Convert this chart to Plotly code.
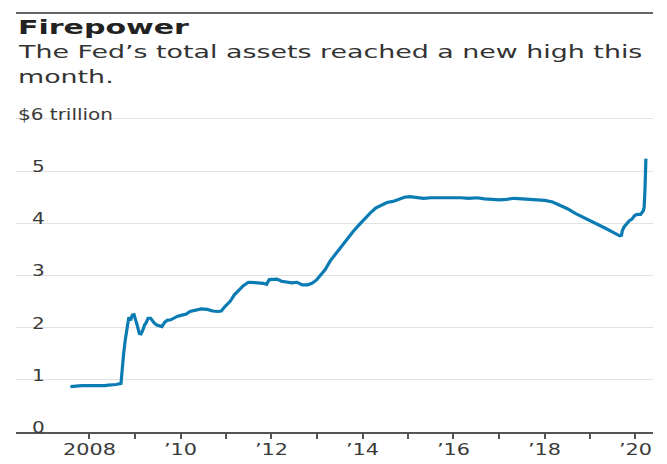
import plotly.graph_objects as go

# Fed total assets, trillions of dollars
dates = [
    "2007-08-01", "2007-09-01", "2007-10-01", "2007-11-01", "2007-12-01",
    "2008-01-01", "2008-02-01", "2008-03-01", "2008-04-01", "2008-05-01",
    "2008-06-01", "2008-07-01", "2008-08-01", "2008-09-10", "2008-09-17",
    "2008-09-24", "2008-10-01", "2008-10-15", "2008-10-29", "2008-11-12",
    "2008-11-26", "2008-12-10", "2008-12-24", "2009-01-07", "2009-01-21",
    "2009-02-04", "2009-02-18", "2009-03-04", "2009-03-18", "2009-04-01",
    "2009-04-15", "2009-05-06", "2009-05-20", "2009-06-03", "2009-06-24",
    "2009-07-15", "2009-08-05", "2009-08-26", "2009-09-16", "2009-10-14",
    "2009-11-11", "2009-12-09", "2010-01-13", "2010-02-17", "2010-03-17",
    "2010-05-05", "2010-06-16", "2010-08-04", "2010-09-15", "2010-10-27",
    "2010-11-24", "2010-12-29", "2011-02-02", "2011-03-09", "2011-04-13",
    "2011-05-18", "2011-06-29", "2011-08-03", "2011-09-14", "2011-10-26",
    "2011-11-23", "2011-12-14", "2012-01-11", "2012-02-15", "2012-03-21",
    "2012-05-02", "2012-06-13", "2012-07-25", "2012-09-05", "2012-10-17",
    "2012-11-21", "2012-12-26", "2013-01-30", "2013-03-06", "2013-04-17",
    "2013-06-05", "2013-07-17", "2013-09-04", "2013-10-16", "2013-12-04",
    "2014-01-15", "2014-03-05", "2014-04-16", "2014-06-04", "2014-07-16",
    "2014-09-03", "2014-10-15", "2014-12-03", "2015-01-14", "2015-03-04",
    "2015-05-06", "2015-07-01", "2015-09-02", "2015-11-04", "2016-01-06",
    "2016-03-02", "2016-05-04", "2016-07-06", "2016-09-07", "2016-11-02",
    "2017-01-04", "2017-03-01", "2017-05-03", "2017-07-05", "2017-09-06",
    "2017-11-01", "2018-01-03", "2018-03-07", "2018-05-02", "2018-07-04",
    "2018-09-05", "2018-11-07", "2019-01-02", "2019-03-06", "2019-05-01",
    "2019-07-03", "2019-08-28", "2019-09-11", "2019-09-18", "2019-10-02",
    "2019-10-23", "2019-11-13", "2019-12-04", "2019-12-25", "2020-01-15",
    "2020-02-12", "2020-03-04", "2020-03-11", "2020-03-18", "2020-03-25",
]
assets = [
    0.87, 0.88, 0.88, 0.89, 0.89,
    0.89, 0.88, 0.89, 0.89, 0.89,
    0.90, 0.90, 0.91, 0.93, 1.20,
    1.40, 1.50, 1.78, 1.97, 2.20,
    2.14, 2.24, 2.25, 2.15, 2.02,
    1.89, 1.88, 1.95, 2.05, 2.10,
    2.18, 2.18, 2.12, 2.09, 2.05,
    2.04, 2.02, 2.10, 2.14, 2.15,
    2.19, 2.22, 2.24, 2.26, 2.31,
    2.33, 2.36, 2.35, 2.32, 2.31,
    2.32, 2.42, 2.50, 2.63, 2.71,
    2.80, 2.87, 2.87, 2.86, 2.85,
    2.83, 2.92, 2.93, 2.93, 2.89,
    2.87, 2.86, 2.87, 2.82, 2.82,
    2.85, 2.91, 3.01, 3.11, 3.28,
    3.43, 3.58, 3.73, 3.84, 3.97,
    4.08, 4.20, 4.29, 4.35, 4.40,
    4.42, 4.46, 4.50, 4.51, 4.50,
    4.48, 4.49, 4.49, 4.49, 4.50,
    4.49, 4.48, 4.49, 4.47, 4.46,
    4.45, 4.46, 4.48, 4.47, 4.46,
    4.46, 4.44, 4.41, 4.35, 4.28,
    4.19, 4.12, 4.05, 3.98, 3.91,
    3.83, 3.76, 3.77, 3.86, 3.93,
    3.99, 4.05, 4.08, 4.15, 4.17,
    4.17, 4.24, 4.31, 4.67, 5.24,
]

x_tick_vals = [f"{y}-01-01" for y in range(2008, 2021)]
x_tick_text = ["2008", "", "\u201910", "", "\u201912", "", "\u201914", "",
               "\u201916", "", "\u201918", "", "\u201920"]
y_tick_vals = [0, 1, 2, 3, 4, 5, 6]
y_tick_text = ["0", "1", "2", "3", "4", "5", "$6 trillion"]

title_text = "Firepower"
subtitle_lines = ["The Fed\u2019s total assets reached a new high this", "month."]

W, H = 667, 464
L, R, T, B = 16, 14, 86, 32
PX_PER_UNIT = 52.17          # pixels per trillion in the reference
plot_h = H - T - B
y_top = plot_h / PX_PER_UNIT

def py(pix):
    return (H - B - pix) / plot_h

fig = go.Figure()
fig.add_trace(go.Scatter(
    x=dates, y=assets, mode="lines",
    line=dict(color="#0b7cb3", width=3.2),
    hoverinfo="skip",
))

annotations = [
    dict(text=title_text, xref="paper", yref="paper", x=0, y=py(27),
         xanchor="left", yanchor="middle", align="left", showarrow=False,
         font=dict(family="DejaVu Sans", size=19, color="#222", weight="bold")),
    dict(text=subtitle_lines[0], xref="paper", yref="paper", x=0, y=py(52),
         xanchor="left", yanchor="middle", align="left", showarrow=False,
         font=dict(family="DejaVu Sans", size=17, color="#333")),
    dict(text=subtitle_lines[1], xref="paper", yref="paper", x=0, y=py(77),
         xanchor="left", yanchor="middle", align="left", showarrow=False,
         font=dict(family="DejaVu Sans", size=17, color="#333")),
]
# y-axis value labels sit just above their gridlines, placed through the y scale
for v, t in zip(y_tick_vals, y_tick_text):
    annotations.append(dict(
        text=t, xref="paper", yref="y", x=0, y=v,
        xanchor="left", yanchor="bottom", align="left", showarrow=False,
        xshift=(0 if t.startswith("$") else 14), yshift=-7,
        font=dict(family="DejaVu Sans", size=16, color="#3a3a3a"),
    ))

fig.update_layout(
    width=W, height=H,
    margin=dict(l=L, r=R, t=T, b=B, autoexpand=False),
    paper_bgcolor="white", plot_bgcolor="white",
    showlegend=False,
    font=dict(family="DejaVu Sans", color="#3a3a3a", size=16),
    xaxis=dict(
        type="date",
        range=["2006-05-21", "2020-05-21"],
        tickvals=x_tick_vals, ticktext=x_tick_text,
        ticks="outside", ticklen=5, tickwidth=1.5, tickcolor="#555",
        showline=True, linecolor="#555", linewidth=1.5,
        showgrid=False, zeroline=False, automargin=False,
        tickfont=dict(size=16, color="#3a3a3a"),
    ),
    yaxis=dict(
        range=[0, y_top],
        tickvals=y_tick_vals,
        showticklabels=False,
        showgrid=True, gridcolor="#e2e2e2", gridwidth=1,
        zeroline=False, showline=False, ticks="", automargin=False,
    ),
    shapes=[dict(type="line", xref="paper", yref="paper",
                 x0=0, x1=1, y0=py(13), y1=py(13),
                 line=dict(color="#333", width=1.5))],
    annotations=annotations,
)

post = """
document.body.style.margin = '0';
document.body.style.padding = '0';
document.documentElement.style.overflow = 'hidden';
var gd = document.getElementById('{plot_id}');
function stretch(els, s, dy){
  els.forEach(function(el){
    var ax = parseFloat(el.getAttribute('x') || '0');
    var t = el.getAttribute('transform') || '';
    el.setAttribute('transform', t + ' translate(' + ax + ',' + dy + ') scale(' + s + ',1) translate(' + (-ax) + ',0)');
  });
}
var ann = Array.from(gd.querySelectorAll('.annotation-text'));
if (ann.length >= 3) {
  stretch(ann.slice(0, 3), 1.58, 0);
  stretch(ann.slice(3), 1.25, 0);
}
stretch(Array.from(gd.querySelectorAll('.xtick text')), 1.3, -3);
"""

fig.write_html("out.html", post_script=post, config={"displayModeBar": False})
